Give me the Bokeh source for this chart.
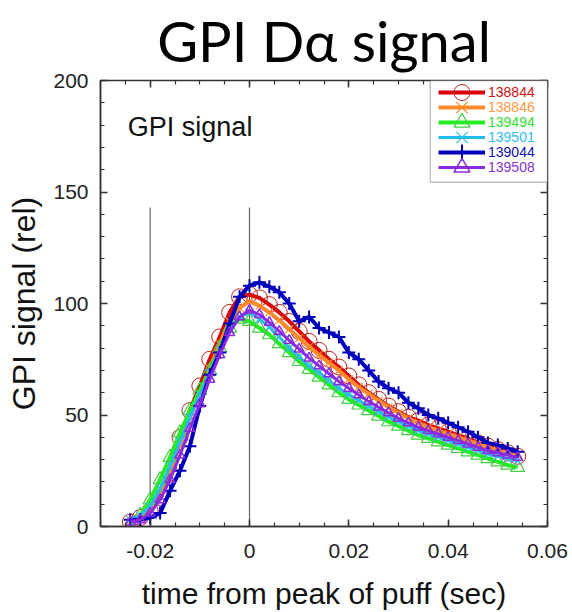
from bokeh.plotting import figure
from bokeh.models import (Legend, LegendItem, Label, LinearAxis, FixedTicker,
                          BoxAnnotation, CustomJSTickFormatter, Title)
from bokeh.embed import file_html
from bokeh.resources import INLINE

# ---------------- data ----------------
time_s = [-0.024, -0.022, -0.020, -0.018, -0.016, -0.014, -0.012, -0.010, -0.008, -0.006,
          -0.004, -0.002, 0.000, 0.002, 0.004, 0.006, 0.008, 0.010, 0.012, 0.014,
          0.016, 0.018, 0.020, 0.022, 0.024, 0.026, 0.028, 0.030, 0.032, 0.034,
          0.036, 0.038, 0.040, 0.042, 0.044, 0.046, 0.048, 0.050, 0.052, 0.054]

s138844 = [2, 4, 7, 13, 24, 40, 52, 63, 75, 85,
           96, 103, 104, 102.5, 99.5, 96, 92, 87.5, 83, 79,
           75, 71.5, 67.5, 63.5, 60, 57, 54, 51.5, 49, 47.5,
           45.5, 44, 42.5, 41, 39.5, 37.5, 36, 34.5, 33, 31.5]
s138846 = [2, 4, 8, 15, 25, 37, 49, 60, 71, 82,
           92, 98, 101, 99, 96, 92.5, 88.5, 84.5, 80.5, 77,
           73.5, 70, 66, 62.5, 59.5, 56.5, 53.5, 51, 48.5, 46.5,
           44.5, 43, 41.5, 40, 38.5, 37, 35.5, 34, 33, 32]
s139494 = [1, 5, 12, 21, 31, 42, 52, 61, 70, 80,
           89, 93, 92, 89, 86, 82, 78, 74, 70.5, 67,
           63.5, 60, 57, 54.5, 52, 49.5, 47, 45, 43, 41,
           39.5, 38, 36.5, 35, 33.5, 32, 30.5, 29, 27.5, 26.5]
s139501 = [3, 5, 9, 17, 27, 38, 49, 59, 69, 79,
           88, 94, 96, 93, 89.5, 85, 80, 76, 72, 69,
           65.5, 62, 59, 56.5, 54, 51.5, 49, 47, 45, 43,
           41.5, 40, 38.5, 37, 35.5, 34, 32.5, 31.5, 30.5, 29.5]
s139044 = [3, 3, 4, 6, 16, 25, 36, 54, 68, 78,
           91, 103, 108, 109.5, 107.5, 105, 100, 92, 94, 89,
           87, 85, 78, 75, 70, 65, 62, 60, 55.5, 53,
           50, 48.5, 46.5, 44.5, 42.5, 40, 37.5, 36.5, 35, 33.5]
s139508 = [2, 3, 6, 12, 21, 32, 44, 55, 66, 77,
           87, 94, 97, 95, 91.5, 87.5, 83.5, 79.5, 75.5, 72,
           68.5, 65, 62, 59, 56, 53.5, 51, 48.5, 46.5, 44.5,
           43, 41.5, 40, 38.5, 37, 35.5, 34, 33, 32, 31]

shots = ["138844", "138846", "139494", "139501", "139044", "139508"]
series = [s138844, s138846, s139494, s139501, s139044, s139508]

x_major_ticks = [-0.02, 0.0, 0.02, 0.04, 0.06]
x_tick_labels = ["-0.02", "0", "0.02", "0.04", "0.06"]
x_minor_ticks = [-0.03, -0.025, -0.02, -0.015, -0.01, -0.005, 0.0, 0.005, 0.01, 0.015,
                 0.02, 0.025, 0.03, 0.035, 0.04, 0.045, 0.05, 0.055, 0.06]
y_major_ticks = [0, 50, 100, 150, 200]
y_minor_ticks = [0, 10, 20, 30, 40, 50, 60, 70, 80, 90, 100, 110, 120, 130, 140,
                 150, 160, 170, 180, 190, 200]

marker_lines_x = [-0.02, 0.0]
marker_lines_bottom = [0, 0]
marker_lines_top = [143, 143]

# ---------------- styling ----------------
line_colors = ["#dd0000", "#ff8a2a", "#22ee22", "#22bbee", "#0000bb", "#8a2be2"]
text_colors = ["#cc1111", "#ff9944", "#33dd33", "#33bbee", "#1111aa", "#8833cc"]
marker_colors = ["#bb2222", "#ff8a2a", "#44cc44", "#33bbee", "#0000bb", "#8a2be2"]
markers = ["circle", "x", "triangle", "x", "cross", "triangle"]
marker_sizes = [16, 11, 14, 11, 13, 10]
marker_lw = [1, 1.2, 1.2, 1.2, 2, 1.5]
line_widths = [4, 4, 4, 3, 4, 3]

FONT = "Liberation Sans"

p = figure(width=572, height=612, x_range=(-0.03, 0.06), y_range=(0, 200),
           output_backend="svg", toolbar_location=None,
           min_border_left=100, min_border_right=25, min_border_top=80,
           min_border_bottom=85)
p.grid.visible = False
p.outline_line_color = "#333333"
p.outline_line_width = 1.5

# axes
xt = FixedTicker(ticks=x_major_ticks, minor_ticks=x_minor_ticks)
yt = FixedTicker(ticks=y_major_ticks, minor_ticks=y_minor_ticks)
p.xaxis.ticker = xt
p.yaxis.ticker = yt
p.xaxis.major_label_overrides = {v: s for v, s in zip(x_major_ticks, x_tick_labels)}
for ax in (p.xaxis[0], p.yaxis[0]):
    ax.major_tick_in = 7
    ax.major_tick_out = 0
    ax.minor_tick_in = 4
    ax.minor_tick_out = 0
    ax.axis_line_color = "#333333"
    ax.major_tick_line_color = "#333333"
    ax.minor_tick_line_color = "#333333"
    ax.axis_line_width = 1.5
    ax.major_tick_line_width = 1.5
    ax.minor_tick_line_width = 1.2
    ax.major_label_text_font = FONT
    ax.major_label_text_font_size = "21px"
    ax.major_label_text_color = "#222222"
    ax.axis_label_text_font = FONT
    ax.axis_label_text_font_style = "normal"
    ax.axis_label_text_color = "#111111"
p.xaxis.axis_label = "time from peak of puff (sec)"
p.yaxis.axis_label = "GPI signal (rel)"
p.xaxis.axis_label_text_font_size = "30px"
p.yaxis.axis_label_text_font_size = "32px"
p.xaxis.major_label_standoff = 17
p.yaxis.major_label_standoff = 12
p.xaxis.axis_label_standoff = 16
p.yaxis.axis_label_standoff = 8

blank = CustomJSTickFormatter(code="return ''")
for loc, tick in (("above", xt), ("right", yt)):
    a = LinearAxis(ticker=tick, formatter=blank, major_tick_in=7, major_tick_out=0,
                   minor_tick_in=4, minor_tick_out=0, major_label_standoff=0,
                   axis_line_color="#333333", major_tick_line_color="#333333",
                   minor_tick_line_color="#333333", major_tick_line_width=1.5,
                   minor_tick_line_width=1.2)
    p.add_layout(a, loc)

# title (above the top axis)
p.add_layout(Title(text="GPI D\u03b1 signal", align="center", text_font="Lato",
                   text_font_size="56px", text_font_style="normal",
                   vertical_align="top", text_baseline="hanging",
                   text_color="black", standoff=10), "above")

# vertical reference lines
p.segment(x0=marker_lines_x, y0=marker_lines_bottom, x1=marker_lines_x,
          y1=marker_lines_top, line_color="#666666", line_width=1.2)

# curves
renderers = []
for i, (shot, ys) in enumerate(zip(shots, series)):
    lr = p.line(time_s, ys, line_color=line_colors[i], line_width=line_widths[i])
    sr = p.scatter(time_s, ys, marker=markers[i], size=marker_sizes[i],
                   line_color=marker_colors[i], fill_alpha=0,
                   line_width=marker_lw[i])
    renderers.append((lr, sr))

# legend box
p.add_layout(BoxAnnotation(left=0.0364, right=0.06, bottom=154.4, top=200,
                           fill_color="white", fill_alpha=1,
                           line_color="#333333", line_width=1.5))

for i, shot in enumerate(shots):
    lg = Legend(items=[LegendItem(label=shot, renderers=list(renderers[i]))],
                location=(338, 414 - 15 * i), padding=0, margin=0, spacing=0,
                glyph_width=47, glyph_height=40, label_height=40,
                label_standoff=3, label_text_font=FONT,
                label_text_font_size="14px", label_text_color=text_colors[i],
                border_line_alpha=0, background_fill_alpha=0)
    p.add_layout(lg, "center")

# in-plot label
p.add_layout(Label(x=-0.0245, y=179, text="GPI signal", text_font=FONT,
                   text_font_size="27px", text_color="#111111",
                   text_baseline="alphabetic"))

open("out.html", "w").write(file_html(p, INLINE))
